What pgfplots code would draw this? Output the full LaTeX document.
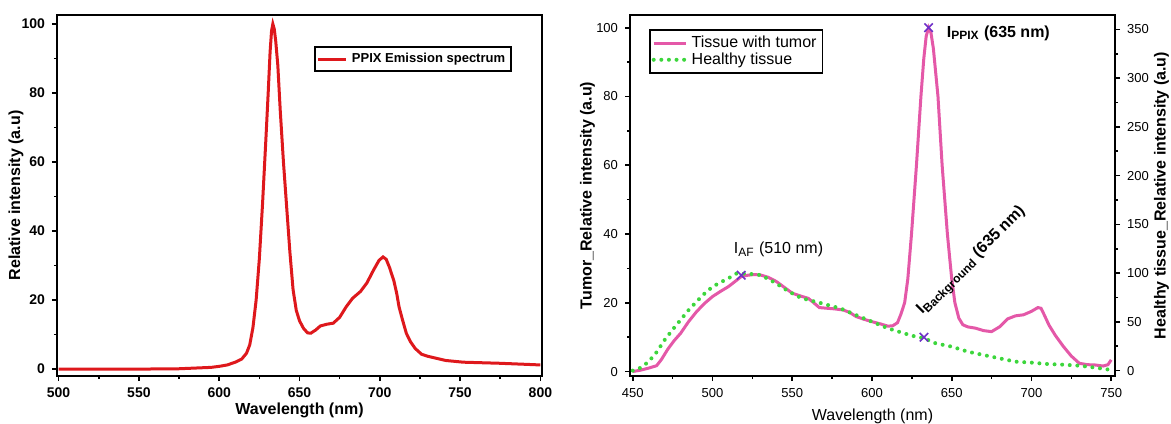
\documentclass[border=0pt]{standalone}
\usepackage{fontspec}
\setmainfont{Liberation Sans}
\usepackage{pgfplots}
\pgfplotsset{compat=1.18}

\definecolor{ppixred}{RGB}{222,24,28}
\definecolor{tumorpink}{RGB}{228,88,168}
\definecolor{healthygreen}{RGB}{60,214,60}
\definecolor{markpurple}{RGB}{112,48,200}

\newcommand{\fs}[1]{\fontsize{#1}{#1}\selectfont}

\pgfplotsset{
  panel/.style={
    scale only axis, width=242.5pt, height=180.5pt,
    axis line style={line width=1pt},
    tick style={line width=0.8pt, black},
    major tick length=2.5pt, minor tick length=1.5pt,
    tick align=outside,
    /pgf/number format/assume math mode=true,
    clip=true,
  },
  dotted green/.style={healthygreen, line width=2pt, line cap=round,
    dash pattern=on 0pt off 3.8pt},
}

\begin{document}
\begin{tikzpicture}
\path[use as bounding box] (-28.5pt,-23.5pt) rectangle (557pt,188pt);

% ---- left panel: PPIX emission
\begin{axis}[panel,
    at={(0,0)}, anchor=south west,
    xmin=499, xmax=801, ymin=-2, ymax=102.6,
    xtick={500,550,...,800}, ytick={0,20,...,100},
    minor x tick num=1, minor y tick num=1,
    xtick pos=bottom, ytick pos=left,
    tick label style={font=\bfseries\fs{7}},
    xlabel={Wavelength (nm)}, ylabel={Relative intensity (a.u)},
    label style={font=\bfseries\fs{8}},
    xlabel style={at={(axis description cs:0.5,-0.096)}, anchor=center},
    ylabel style={at={(axis description cs:-0.0845,0.5)}, anchor=center},
    legend style={at={(0.938,0.914)}, anchor=north east, draw=black,
      line width=0.8pt, font=\bfseries\fs{6.5}, inner sep=1pt},
    legend image code/.code={\draw[#1] (0pt,0pt) -- (14pt,0pt);},
]
\addplot[ppixred, line width=1.5pt] coordinates {
(500,0) (550,0) (575,0.1) (590,0.4) (595,0.5) (600,0.8) (605,1.2) (610,2.0)
(614,2.9) (617,4.6) (619,7) (621,12) (623,20) (625,32) (627,48) (629,66)
(630.5,80) (631.7,92) (632.6,98) (633.4,100) (634.3,98.5) (635.2,95) (636.5,88)
(638,75) (640,60) (642,47)
(644,34) (646,23) (648,17) (650,14) (652.5,11.8) (655,10.5) (657,10.4) (660,11.3)
(663,12.5) (667,13.0) (671,13.3) (675,15) (679,18) (683,20.5) (688,22.5) (692,25)
(696,28.6) (699.5,31.5) (702,32.5) (704,31.8) (706,29.5) (708.7,25.7) (710.5,22)
(712,18) (714,14.5) (716.5,10.4) (719,8) (722,6) (726,4.3) (730,3.7) (741,2.5)
(752,2.0) (774,1.7) (790,1.4) (800,1.2)
};
\legend{PPIX Emission spectrum}
\end{axis}

% ---- right panel: tumour (left y axis)
\begin{axis}[panel,
    at={(286.5pt,0)}, anchor=south west,
    xmin=448.3, xmax=752.4, ymin=-1.3, ymax=103.7,
    xtick={450,500,...,750}, ytick={0,20,...,100},
    minor x tick num=1, minor y tick num=1,
    xtick pos=bottom, ytick pos=left,
    tick label style={font=\fs{6.5}},
    xlabel={Wavelength (nm)}, ylabel={Tumor\_Relative intensity (a.u)},
    xlabel style={font=\fs{8}, at={(axis description cs:0.5,-0.113)}, anchor=center},
    ylabel style={font=\bfseries\fs{8}, at={(axis description cs:-0.0876,0.5)}, anchor=center},
    legend style={at={(0.039,0.961)}, anchor=north west, draw=black,
      line width=0.8pt, font=\fs{8}, inner sep=1pt, row sep=-3pt},
    legend image code/.code={\draw[#1] (0pt,0pt) -- (16pt,0pt);},
    legend cell align=left,
]
\addplot[tumorpink, line width=1.5pt] coordinates {
(450,0) (455,0.4) (460,1.0) (465,1.7) (468,3.5) (472,6.5) (476,9) (480,11.1)
(485,14.5) (490,17.4) (495,19.8) (500,21.8) (505,23.3) (510,24.7) (515,26.5)
(518,27.6) (522,28) (526,28.2) (530,28.1) (535,27.4) (540,26.2) (545,24.5)
(550,22.8) (555,22) (560,21.3) (563,20.2) (567,18.6) (572,18.4) (577,18.2)
(582,17.9) (586,17.2) (590,16) (595,15.2) (600,14.5) (605,13.9) (610,13.2)
(613,13.3) (616,14.2) (618,16.5) (620.5,20) (622.5,27) (624.8,40) (627.9,60)
(630.7,80) (632.5,91) (634,97.5) (635.5,100) (637,98.5) (638.5,94) (641.4,80) (644,60)
(647.3,40) (650,27) (652,20) (654.5,15.5) (657,13.6) (660,13) (665,12.6)
(670,11.9) (675,11.6) (680,13) (685,15.3) (690,16.2) (695,16.5) (700,17.5)
(704,18.6) (706,18.4) (708,16.5) (711,13.5) (715,10.5) (720,7.3) (725,4.5)
(730,2.4) (735,2) (740,1.9) (745,1.6) (748,2.0) (750,3.4)
};
\addlegendentry{Tissue with tumor}
\addlegendimage{dotted green}
\addlegendentry{Healthy tissue}
\node[anchor=west, font=\fs{8}] at (axis cs:509,35.5) {I\textsubscript{AF} (510 nm)};
\node[anchor=west, font=\bfseries\fs{8}] at (axis cs:642.5,98.5) {I\textsubscript{PPIX} (635 nm)};
\node[anchor=base west, rotate=45, font=\bfseries\fs{8}, inner sep=0pt]
  at (axis cs:631.5,16.5) {I\textsubscript{Background} (635 nm)};
\end{axis}

% ---- right panel: healthy tissue (right y axis)
\begin{axis}[panel,
    at={(286.5pt,0)}, anchor=south west,
    xmin=448.3, xmax=752.4, ymin=-5.5, ymax=364.7,
    axis x line=none, axis y line*=right,
    ytick={0,50,...,350}, minor y tick num=1,
    tick label style={font=\fs{6.5}},
    ylabel={Healthy tissue\_Relative intensity (a.u)},
    ylabel style={font=\bfseries\fs{8}, at={(axis description cs:1.096,0.5)}, anchor=center},
]
\addplot[dotted green] coordinates {
(450,0) (455,3) (460,9.2) (465,19) (470,31.4) (475,42) (480,52) (485,62)
(490,70.7) (495,79) (500,86) (505,90.5) (510,94.7) (515,99.5) (520,99.5)
(525,99) (530,98) (535,94) (540,89.5) (545,84) (550,79.3) (555,75) (560,72.5)
(565,70.5) (570,68.4) (575,66) (580,64) (585,60.5) (590,57) (595,53.6)
(600,50.2) (605,46.8) (610,43.4) (615,40.9) (620,38.3) (626,35.5) (633,33)
(640,28) (650,24.6) (660,19.5) (670,16) (680,12.6) (690,9.2) (700,8.2)
(710,6.8) (720,6.1) (730,5.1) (740,3.1) (750,0.7)
};
\addplot[only marks, mark=x, mark size=3pt, markpurple, line width=0.8pt]
  coordinates {(518,97.8) (635.5,351.7) (632.6,34.3)};
\end{axis}
\end{tikzpicture}
\end{document}
